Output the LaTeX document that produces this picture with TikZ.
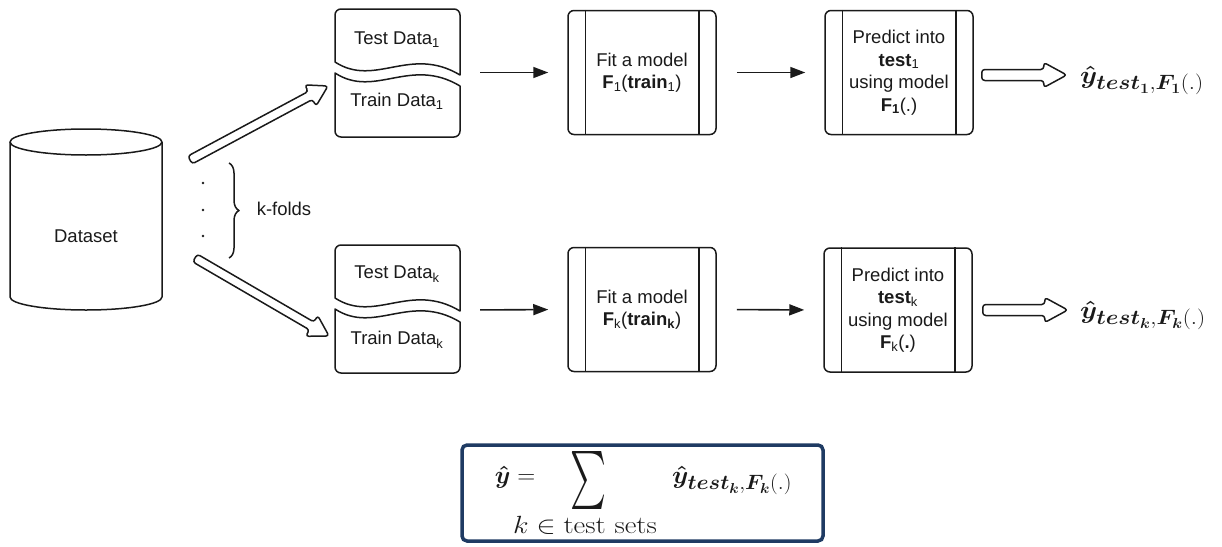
\documentclass[tikz,border=0pt]{standalone}
\usepackage[no-math]{fontspec}
\setmainfont{Liberation Sans}
\usepackage{amsmath,bm}
\usepackage{graphicx}
\usetikzlibrary{calc,arrows.meta,decorations.pathreplacing}
\definecolor{navy}{HTML}{1F3B63}
\definecolor{ink}{HTML}{1A1A1A}
\newcommand\fatarrow[5]{%
  \coordinate (fa-h) at ($(#2)!#5!(#1)$);
  \draw[fat] ($(#1)!#3!90:(#2)$) -- ($(fa-h)!#3!90:(#2)$) -- ($(fa-h)!#4!90:(#2)$) -- (#2)
    -- ($(fa-h)!#4!-90:(#2)$) -- ($(fa-h)!#3!-90:(#2)$) -- ($(#1)!#3!-90:(#2)$) -- cycle;}
\tikzset{
  base/.style={line width=1.5pt, line join=round, draw=ink},
  lbl/.style={font=\fontsize{18.5}{22.5}\selectfont, align=center, inner sep=0pt, text=ink},
  procbox/.style={base, lbl, rounded corners=6pt, minimum width=148pt, minimum height=124pt},
  flow/.style={line width=1.6pt, draw=ink, -{Triangle[length=15pt,width=11pt]}, shorten <=20pt, shorten >=19pt},
  fat/.style={base, fill=white, rounded corners=3pt},
  mth/.style={inner sep=0pt, text=ink},
  datadoc/.pic={
    \draw[base,fill=white] (335,-62) -- (335,-15) arc[start angle=180,end angle=90,radius=6]
      -- (454,-9) arc[start angle=90,end angle=0,radius=6] -- (460,-75)
      .. controls (410,-45) and (375,-88) .. (335,-62) -- cycle;
    \draw[base,fill=white] (335,-73) .. controls (375,-99) and (410,-56) .. (460,-86)
      -- (460,-131) arc[start angle=0,end angle=-90,radius=6] -- (341,-137)
      arc[start angle=270,end angle=180,radius=6] -- cycle;
  }
}
\begin{document}
\begin{tikzpicture}[x=1pt,y=1pt]
\useasboundingbox (0,0) rectangle (1222,-546);
% dataset cylinder
\draw[base] (10,-142) -- (10,-297) arc[start angle=180,end angle=360,x radius=76,y radius=13] -- (162,-142);
\draw[base] (86,-142) ellipse [x radius=76, y radius=13];
\node[lbl] (ds) at (86,-236) {Dataset};
% folds
\pic at (0,0) {datadoc};
\pic at (0,-236) {datadoc};
\node[lbl] (test1) at (397,-40) {Test Data\textsubscript{1}};
\node[lbl] (train1) at (397,-101) {Train Data\textsubscript{1}};
\node[lbl] (test2) at (397,-274) {Test Data\textsubscript{k}};
\node[lbl] (train2) at (397,-340) {Train Data\textsubscript{k}};
\coordinate (d1e) at (460,-72.5);
\coordinate (d2e) at (460,-310);
% split arrows
\coordinate (a1s) at (190,-160);
\coordinate (a1e) at (328,-86);
\coordinate (a2s) at (195,-258);
\coordinate (a2e) at (329,-336);
\fatarrow{a1s}{a1e}{4.5pt}{12pt}{20pt}
\fatarrow{a2s}{a2e}{4.5pt}{12pt}{20pt}
% dots and brace
\foreach \yy [count=\i] in {183,210,236} \fill[ink] (203,-\yy) circle (1.4) coordinate (dot\i);
\draw[base, decorate, decoration={brace, amplitude=10pt}] (229,-163) -- (229,-258);
\node[lbl] (kf) at (284,-209) {k-folds};
% process boxes
\node[procbox] (fit1) at (642,-72.5) {Fit a model\\\textbf{F}\textsubscript{1}(\textbf{train}\textsubscript{1})};
\node[procbox] (pred1) at (899,-72.5) {Predict into\\\textbf{test}\textsubscript{1}\\using model\\\textbf{F\textsubscript{1}}(.)};
\node[procbox] (fit2) at (642,-309.5) {Fit a model\\\textbf{F}\textsubscript{k}(\textbf{train\textsubscript{k}})};
\node[procbox] (pred2) at (898,-310) {Predict into\\\textbf{test}\textsubscript{k}\\using model\\\textbf{F}\textsubscript{k}(\textbf{.})};
\foreach \n in {fit1,pred1,fit2,pred2}{
  \draw[base] ([xshift=18pt]\n.north west) -- ([xshift=18pt]\n.south west);
  \draw[base] ([xshift=-18pt]\n.north east) -- ([xshift=-18pt]\n.south east);
}
% flow arrows
\draw[flow] (d1e) -- (fit1.west);
\draw[flow] (fit1.east) -- (pred1.west);
\draw[flow] (d2e) -- (fit2.west);
\draw[flow] (fit2.east) -- (pred2.west);
% output arrows
\coordinate (o1s) at ($(pred1.east)+(8,-2.5)$);
\coordinate (o1e) at ($(pred1.east)+(93,-2.5)$);
\coordinate (o2s) at ($(pred2.east)+(10,0)$);
\coordinate (o2e) at ($(pred2.east)+(95,0)$);
\fatarrow{o1s}{o1e}{5.5pt}{12.5pt}{23pt}
\fatarrow{o2s}{o2e}{5.5pt}{12.5pt}{23pt}
\node[mth, anchor=base west, font=\fontsize{31}{34}\selectfont] (yhat1) at (1080,-83)
  {\scalebox{1.1}[1]{$\bm{\hat{y}}_{\bm{test}_{\bm{1}},\bm{F}_{\bm{1}}(.)}$}};
\node[mth, anchor=base west, font=\fontsize{31}{34}\selectfont] (yhat2) at (1080,-318)
  {\scalebox{1.1}[1]{$\bm{\hat{y}}_{\bm{test}_{\bm{k}},\bm{F}_{\bm{k}}(.)}$}};
% formula
\node[draw=navy, line width=3.5pt, rounded corners=5pt, minimum width=361pt, minimum height=96pt, inner sep=0pt] (fbox) at (642.5,-493) {};
\node[mth, anchor=base, font=\fontsize{28}{32}\selectfont] (flhs) at (515,-483) {$\bm{\hat{y}} =$};
\node[mth] (fsum) at (588,-480) {\resizebox*{36pt}{58pt}{$\sum$}};
\node[mth, font=\fontsize{28}{32}\selectfont] (fsub) at (585,-525) {\scalebox{1.15}[1]{$k \in \mathrm{test\ sets}$}};
\node[mth, anchor=base west, font=\fontsize{28}{32}\selectfont] (frhs) at (672,-483)
  {\scalebox{1.05}[1]{$\bm{\hat{y}}_{\bm{test}_{\bm{k}},\bm{F}_{\bm{k}}(.)}$}};
\end{tikzpicture}
\end{document}
